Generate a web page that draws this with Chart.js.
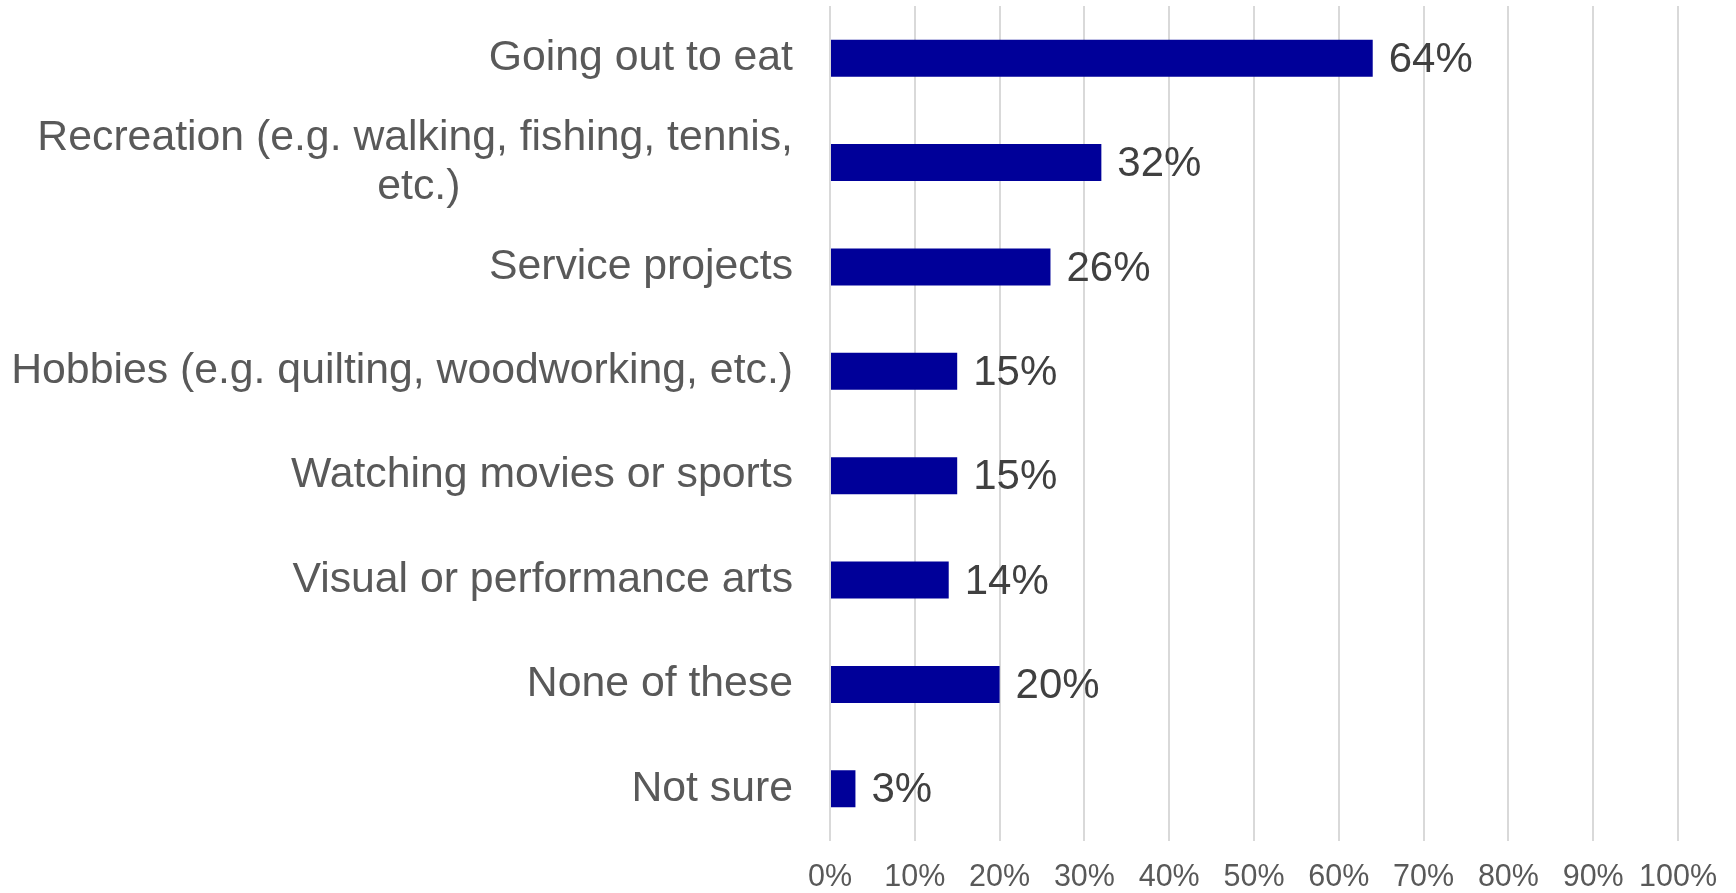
<!DOCTYPE html>
<html>
<head>
<meta charset="utf-8">
<script src="https://cdn.jsdelivr.net/npm/chart.js@4.4.1/dist/chart.umd.min.js"></script>
<style>
    html, body { margin: 0; padding: 0; background: #ffffff; }
    #wrap { width: 1736px; height: 893px; }
</style>
</head>
<body>
<div id="wrap"><canvas id="activityChart" width="1736" height="893"></canvas></div>
<script>
const categories = [
    'Going out to eat',
    ['Recreation (e.g. walking, fishing, tennis,', 'etc.)'],
    'Service projects',
    'Hobbies (e.g. quilting, woodworking, etc.)',
    'Watching movies or sports',
    'Visual or performance arts',
    'None of these',
    'Not sure'
];
const percentValues = [64, 32, 26, 15, 15, 14, 20, 3];
const xTickValues = [0, 10, 20, 30, 40, 50, 60, 70, 80, 90, 100];

const FONT = "'Liberation Sans', Arial, sans-serif";
const LABEL_SIZE = 42.75;
const VALUE_SIZE = 42;

// segunda linha centrada sob a primeira (o Chart.js alinha tudo à direita)
function centerWrapped(lines) {
    if (!Array.isArray(lines)) return lines;
    const ctx = document.createElement('canvas').getContext('2d');
    ctx.font = `${LABEL_SIZE}px ${FONT}`;
    const widest = Math.max(...lines.map(l => ctx.measureText(l).width));
    const spaceW = ctx.measureText(' ').width;
    return lines.map(l => {
        const pad = Math.round((widest - ctx.measureText(l).width) / 2 / spaceW);
        return l + ' '.repeat(pad);
    });
}

const valueLabels = {
    id: 'valueLabels',
    afterDatasetsDraw(chart) {
        const ctx = chart.ctx;
        const meta = chart.getDatasetMeta(0);
        ctx.save();
        ctx.font = `${VALUE_SIZE}px ${FONT}`;
        ctx.fillStyle = '#404040';
        ctx.textAlign = 'left';
        ctx.textBaseline = 'middle';
        meta.data.forEach((bar, i) => {
            ctx.fillText(`${percentValues[i]}%`, bar.x + 16, bar.y + 2);
        });
        ctx.restore();
    }
};

new Chart(document.getElementById('activityChart'), {
    type: 'bar',
    data: {
        labels: categories.map(centerWrapped),
        datasets: [{
            data: percentValues,
            backgroundColor: '#000099',
            borderWidth: 0,
            barPercentage: 0.354,
            categoryPercentage: 1
        }]
    },
    options: {
        indexAxis: 'y',
        responsive: false,
        animation: false,
        layout: { padding: { top: 6, right: 58, bottom: 0, left: 0 } },
        plugins: {
            legend: { display: false },
            tooltip: { enabled: false }
        },
        scales: {
            x: {
                min: 0,
                max: 100,
                afterBuildTicks: scale => {
                    scale.ticks = xTickValues.map(v => ({ value: v }));
                },
                afterFit: scale => {
                    scale.height = 52;
                    scale.paddingLeft = 0;
                    scale.paddingRight = 0;
                },
                grid: { color: '#d9d9d9', lineWidth: 2, drawTicks: false },
                border: { display: false },
                ticks: {
                    padding: 21,
                    color: '#595959',
                    maxRotation: 0,
                    autoSkip: false,
                    font: { family: FONT, size: 30.5, lineHeight: 1.033 },
                    callback: v => `${v}%`
                }
            },
            y: {
                grid: { display: false, drawTicks: false },
                border: { display: false },
                afterFit: scale => {
                    scale.width = 830;
                    scale.paddingTop = 0;
                    scale.paddingBottom = 0;
                },
                ticks: {
                    padding: 37,
                    autoSkip: false,
                    color: '#595959',
                    font: { family: FONT, size: LABEL_SIZE, lineHeight: 1.15 }
                }
            }
        }
    },
    plugins: [valueLabels]
});
</script>
</body>
</html>
